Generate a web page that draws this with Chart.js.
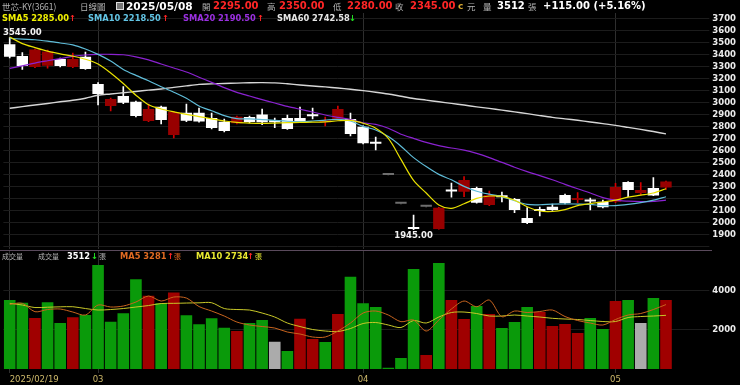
<!DOCTYPE html>
<html>
<head>
<meta charset="utf-8">
<script src="https://cdn.jsdelivr.net/npm/chart.js@4.4.1/dist/chart.umd.min.js"></script>
<style>
    html, body { margin: 0; padding: 0; background: #000; }
    #khung { position: relative; width: 740px; height: 385px; background: #000; overflow: hidden; }
    #khung canvas { position: absolute; left: 0; }
    .t { position: absolute; white-space: nowrap; line-height: 12px; font-family: "DejaVu Sans", sans-serif; }
    .cjk { font-family: "Noto Sans CJK TC", sans-serif; font-size: 8.5px; color: #b4b4b4; }
    .so { font-weight: bold; font-size: 10px; }
    .nho { font-weight: bold; font-size: 8.3px; }
    .do { color: #ff2626; }
    .xanh { color: #22e022; }
    .trang { color: #fff; }
    #vien { position: absolute; left: 0; top: 250px; width: 712px; height: 1px; background: #5a4a5c; }
</style>
</head>
<body>
<div id="khung">
    <canvas id="bieuDoGia" width="740" height="258" style="top:0"></canvas>
    <canvas id="bieuDoKL" width="740" height="145" style="top:240px"></canvas>
    <div id="vien"></div>

    <!-- dòng tiêu đề 1 -->
    <span class="t cjk" style="left:2px;top:0">世芯-KY(3661)</span>
    <span class="t cjk" style="left:80px;top:0">日線圖</span>
    <span class="t" style="left:116px;top:2px;width:6px;height:6px;border:1px solid #ddd;background:#777"></span>
    <span class="t so trang" style="left:126px;top:0;font-size:10.6px">2025/05/08</span>
    <span class="t cjk" style="left:202px;top:0">開</span>
    <span class="t so do" style="left:213px;top:0">2295.00</span>
    <span class="t cjk" style="left:267px;top:0">高</span>
    <span class="t so do" style="left:279px;top:0">2350.00</span>
    <span class="t cjk" style="left:333px;top:0">低</span>
    <span class="t so do" style="left:347px;top:0">2280.00</span>
    <span class="t cjk" style="left:395px;top:0">收</span>
    <span class="t so do" style="left:410px;top:0">2345.00</span>
    <span class="t so" style="left:458px;top:0;color:#d8a830;font-size:9px">c</span>
    <span class="t cjk" style="left:467px;top:0">元</span>
    <span class="t cjk" style="left:483px;top:0">量</span>
    <span class="t so trang" style="left:497px;top:0">3512</span>
    <span class="t cjk" style="left:528px;top:0">張</span>
    <span class="t so trang" style="left:543px;top:0">+115.00 (+5.16%)</span>

    <!-- dòng tiêu đề 2: SMA -->
    <span class="t nho" style="left:2px;top:12px;color:#f0f000">SMA5 2285.00</span>
    <span class="t nho do" style="left:69px;top:12px">↑</span>
    <span class="t nho" style="left:88px;top:12px;color:#62c4e4">SMA10 2218.50</span>
    <span class="t nho do" style="left:162px;top:12px">↑</span>
    <span class="t nho" style="left:183px;top:12px;color:#9a30e0">SMA20 2190.50</span>
    <span class="t nho do" style="left:257px;top:12px">↑</span>
    <span class="t nho" style="left:277px;top:12px;color:#e6e6e6">SMA60 2742.58</span>
    <span class="t nho xanh" style="left:349px;top:12px">↓</span>

    <!-- tiêu đề khối lượng -->
    <span class="t cjk" style="left:2px;top:250px;font-size:7px">成交量</span>
    <span class="t cjk" style="left:38px;top:250px;font-size:7px">成交量</span>
    <span class="t nho trang" style="left:67px;top:250px">3512</span>
    <span class="t nho xanh" style="left:91px;top:250px">↓</span>
    <span class="t cjk" style="left:99px;top:250px;font-size:7px">張</span>
    <span class="t nho" style="left:120px;top:250px;color:#e06a22">MA5 3281</span>
    <span class="t nho do" style="left:167px;top:250px">↑</span>
    <span class="t cjk" style="left:174px;top:250px;font-size:7px;color:#e06a22">張</span>
    <span class="t nho" style="left:196px;top:250px;color:#e8e830">MA10 2734</span>
    <span class="t nho do" style="left:247px;top:250px">↑</span>
    <span class="t cjk" style="left:255px;top:250px;font-size:7px;color:#e8e830">張</span>
</div>

<script>
// ngày giao dịch
const ngayGD = [
    "2025/02/19", "2025/02/20", "2025/02/21", "2025/02/24", "2025/02/25", "2025/02/26", "2025/02/27",
    "2025/03/03", "2025/03/04", "2025/03/05", "2025/03/06", "2025/03/07", "2025/03/10", "2025/03/11",
    "2025/03/12", "2025/03/13", "2025/03/14", "2025/03/17", "2025/03/18", "2025/03/19", "2025/03/20",
    "2025/03/21", "2025/03/24", "2025/03/25", "2025/03/26", "2025/03/27", "2025/03/28", "2025/03/31",
    "2025/04/01", "2025/04/02", "2025/04/07", "2025/04/08", "2025/04/09", "2025/04/10", "2025/04/11",
    "2025/04/14", "2025/04/15", "2025/04/16", "2025/04/17", "2025/04/18", "2025/04/21", "2025/04/22",
    "2025/04/23", "2025/04/24", "2025/04/25", "2025/04/28", "2025/04/29", "2025/04/30",
    "2025/05/02", "2025/05/05", "2025/05/06", "2025/05/07", "2025/05/08",
];

// giá mở, cao, thấp, đóng
const giaMo = [3490, 3392, 3300, 3310, 3367, 3300, 3386, 3158, 2975, 3058, 3011, 2850, 2969, 2733, 2919, 2919, 2875, 2844, 2831, 2883, 2905, 2845, 2875, 2875, 2895, 2840, 2867, 2867, 2803, 2668, 2400, 2160, 1955, 2135, 1950, 2275, 2261, 2292, 2150, 2225, 2200, 2042, 2102, 2136, 2233, 2192, 2185, 2178, 2178, 2342, 2250, 2292, 2295];
const giaCao = [3545, 3420, 3450, 3440, 3375, 3417, 3425, 3170, 3040, 3136, 3015, 2992, 2975, 2930, 2992, 2958, 2917, 2867, 2890, 2890, 2950, 2875, 2900, 2967, 2958, 2883, 2975, 2917, 2810, 2717, 2400, 2160, 2067, 2135, 2130, 2333, 2386, 2300, 2267, 2258, 2205, 2128, 2133, 2158, 2242, 2253, 2208, 2192, 2331, 2345, 2336, 2378, 2350];
const giaThap = [3375, 3280, 3295, 3290, 3300, 3295, 3280, 2983, 2933, 2995, 2885, 2845, 2825, 2708, 2845, 2840, 2785, 2760, 2825, 2835, 2820, 2795, 2780, 2838, 2867, 2808, 2860, 2725, 2660, 2608, 2400, 2160, 1945, 2135, 1948, 2215, 2219, 2165, 2145, 2175, 2086, 1995, 2058, 2105, 2160, 2170, 2108, 2125, 2170, 2219, 2235, 2228, 2280];
const giaDong = [3385, 3308, 3445, 3430, 3308, 3367, 3283, 3075, 3033, 3002, 2892, 2950, 2858, 2925, 2853, 2845, 2792, 2767, 2886, 2842, 2840, 2840, 2783, 2842, 2890, 2850, 2950, 2742, 2665, 2660, 2400, 2160, 1950, 2135, 2128, 2262, 2358, 2169, 2233, 2215, 2108, 2000, 2100, 2108, 2167, 2200, 2180, 2131, 2300, 2275, 2275, 2230, 2345];

// đường trung bình giá
const sma5 = [3550, 3495, 3462, 3432, 3410, 3390, 3365, 3325, 3250, 3162, 3065, 2985, 2950, 2926, 2905, 2887, 2868, 2850, 2838, 2833, 2831, 2833, 2836, 2838, 2840, 2843, 2852, 2855, 2831, 2790, 2705, 2530, 2355, 2250, 2150, 2122, 2160, 2205, 2225, 2222, 2190, 2135, 2100, 2096, 2112, 2145, 2162, 2175, 2190, 2215, 2232, 2250, 2285];
const sma10 = [3539, 3532, 3527, 3515, 3500, 3485, 3450, 3405, 3350, 3280, 3230, 3185, 3135, 3090, 3040, 2975, 2935, 2895, 2870, 2868, 2862, 2855, 2848, 2845, 2850, 2858, 2864, 2850, 2805, 2775, 2720, 2640, 2545, 2470, 2405, 2360, 2305, 2265, 2240, 2220, 2185, 2155, 2152, 2158, 2160, 2158, 2155, 2145, 2145, 2155, 2170, 2190, 2218.5];
const sma20 = [3289, 3310, 3333, 3352, 3370, 3388, 3400, 3405, 3406, 3402, 3385, 3360, 3325, 3292, 3258, 3215, 3172, 3128, 3088, 3058, 3028, 3000, 2972, 2948, 2925, 2900, 2880, 2862, 2835, 2822, 2790, 2740, 2705, 2672, 2645, 2625, 2608, 2580, 2545, 2505, 2465, 2428, 2395, 2360, 2322, 2285, 2250, 2212, 2190, 2182, 2178, 2180, 2190.5];
const sma60 = [2956, 2970, 2983, 2996, 3010, 3023, 3040, 3065, 3075, 3085, 3096, 3107, 3117, 3130, 3143, 3155, 3159, 3163, 3166, 3169, 3170, 3168, 3160, 3150, 3142, 3134, 3125, 3114, 3103, 3090, 3075, 3056, 3037, 3024, 3010, 2997, 2983, 2968, 2955, 2941, 2926, 2911, 2895, 2880, 2868, 2856, 2842, 2828, 2814, 2797, 2780, 2762, 2742.58];

// khối lượng (張) và trung bình khối lượng
const khoiLuong = [3512, 3375, 2596, 3393, 2341, 2630, 2748, 5294, 2409, 2833, 4565, 3732, 3342, 3902, 2732, 2274, 2579, 2104, 1935, 2341, 2494, 1391, 916, 2562, 1527, 1374, 2800, 4700, 3342, 3156, 70, 560, 5090, 713, 5395, 3512, 2545, 3207, 2800, 2087, 2392, 3156, 2901, 2189, 2290, 1832, 2596, 2036, 3461, 3512, 2341, 3614, 3512];
const klMA5 = [3293, 3344, 2917, 3029, 3054, 2901, 2749, 3258, 3156, 3207, 3410, 3716, 3461, 3665, 3614, 3181, 2952, 2698, 2392, 2240, 2163, 2087, 1883, 1782, 1629, 1629, 1934, 2341, 2850, 2952, 2749, 2408, 2494, 1934, 2494, 3054, 3461, 3171, 3512, 2662, 2952, 2876, 2927, 3003, 2672, 2469, 2341, 2240, 2520, 2749, 2825, 3029, 3281];
const klMA10 = [3344, 3258, 3130, 3146, 3166, 3171, 3079, 3003, 3029, 3079, 3156, 3232, 3334, 3344, 3359, 3370, 3375, 3079, 3029, 3003, 2850, 2647, 2341, 2163, 2011, 1934, 1909, 2061, 2316, 2367, 2240, 2112, 2469, 2341, 2647, 2876, 2901, 2825, 2698, 2698, 2749, 2698, 2647, 2581, 2545, 2520, 2469, 2418, 2418, 2621, 2672, 2698, 2734];

// nhãn trục
const nhanGia = [1800, 1900, 2000, 2100, 2200, 2300, 2400, 2500, 2600, 2700, 2800, 2900, 3000, 3100, 3200, 3300, 3400, 3500, 3600, 3700];
const nhanKL = [2000, 4000];
const viTriThang = [0, 7, 28, 48];
const tenThang = ["2025/02/19", "03", "04", "05"];

const FONT = '"DejaVu Sans", sans-serif';
const MAU_LUOI = "#1c1c1c";

// màu nến: đỏ = tăng, trắng = giảm
function mauThan(i) {
    if (giaDong[i] > giaMo[i]) return "#980000";
    if (giaDong[i] < giaMo[i]) return "#ffffff";
    return "#6e6e6e";
}
function mauRau(i) {
    if (giaDong[i] > giaMo[i]) return "#d40000";
    if (giaDong[i] < giaMo[i]) return "#ffffff";
    return "#6e6e6e";
}
// màu khối lượng theo giá đóng so với hôm trước
function mauKL(i) {
    if (i === 0) return "#0a9a0a";
    if (giaDong[i] > giaDong[i - 1]) return "#a00000";
    if (giaDong[i] < giaDong[i - 1]) return "#0a9a0a";
    return "#ababab";
}

const chiSo = ngayGD.map((_, i) => i);
const mauLuoiDoc = (ctx) => (viTriThang.includes(ctx.index) ? "#2e2e2e" : "rgba(0,0,0,0)");

// ghi giá cao nhất / thấp nhất
const nhanCaoThap = {
    id: "nhanCaoThap",
    afterDatasetsDraw(chart) {
        const { ctx, scales } = chart;
        const iMax = giaCao.indexOf(Math.max(...giaCao));
        const iMin = giaThap.indexOf(Math.min(...giaThap));
        ctx.save();
        ctx.font = "bold 8.5px " + FONT;
        ctx.fillStyle = "#f2f2f2";
        ctx.textAlign = "left";
        [[iMax, giaCao[iMax], "bottom", -1], [iMin, giaThap[iMin], "top", 2]].forEach(([i, v, baseLine, dy]) => {
            const chu = v.toFixed(2);
            const w = ctx.measureText(chu).width;
            const trai = Math.max(3, scales.x.getPixelForValue(i) - w / 2);
            ctx.textBaseline = baseLine;
            ctx.fillText(chu, trai, scales.y.getPixelForValue(v) + dy);
        });
        ctx.restore();
    },
};

const duong = (label, data, color, width) => ({
    type: "line",
    label,
    data,
    borderColor: color,
    borderWidth: width,
    pointRadius: 0,
    tension: 0.3,
    fill: false,
});

// trục giá bên phải: vạch lưới kéo dài tới sát nhãn
const trucPhai = (min, max, ticks, callback) => ({
    position: "right",
    min,
    max,
    afterBuildTicks: (s) => { s.ticks = ticks.map((v) => ({ value: v })); },
    ticks: {
        autoSkip: false,
        padding: 3,
        color: "#ececec",
        font: { family: FONT, size: 8.5, weight: "bold" },
        callback,
    },
    grid: { color: MAU_LUOI, tickColor: MAU_LUOI, tickLength: 37 },
    border: { display: false },
    afterFit: (s) => { s.width = 67.7; },
});

new Chart(document.getElementById("bieuDoGia"), {
    type: "bar",
    data: {
        labels: ngayGD,
        datasets: [
            duong("SMA5", sma5, "#e8e000", 1.2),
            duong("SMA10", sma10, "#5fbcd8", 1.2),
            duong("SMA20", sma20, "#8a22d0", 1.2),
            duong("SMA60", sma60, "#d6d6d6", 1.4),
            {
                label: "than",
                data: chiSo.map((i) => [giaMo[i], giaDong[i]]),
                backgroundColor: chiSo.map(mauThan),
                grouped: false,
                barPercentage: 0.9,
                categoryPercentage: 1,
                minBarLength: 2,
            },
            {
                label: "rau",
                data: chiSo.map((i) => [giaThap[i], giaCao[i]]),
                backgroundColor: chiSo.map(mauRau),
                grouped: false,
                barThickness: 1,
            },
        ],
    },
    options: {
        responsive: false,
        animation: false,
        events: [],
        layout: { padding: { left: 3.4, top: 13, bottom: 9, right: 0 }, autoPadding: false },
        plugins: { legend: { display: false }, tooltip: { enabled: false } },
        scales: {
            x: {
                offset: true,
                grid: { offset: false, color: mauLuoiDoc, drawTicks: false },
                ticks: { display: false },
                border: { display: false },
                afterFit: (s) => { s.height = 0; },
            },
            y: trucPhai(1783.33, 3750, nhanGia, (v) => (v >= 1900 ? v : "")),
        },
    },
    plugins: [nhanCaoThap],
});

new Chart(document.getElementById("bieuDoKL"), {
    type: "bar",
    data: {
        labels: ngayGD,
        datasets: [
            duong("MA5", klMA5, "#c8641e", 1),
            duong("MA10", klMA10, "#c8c828", 1),
            {
                label: "成交量",
                data: khoiLuong,
                backgroundColor: chiSo.map(mauKL),
                barPercentage: 0.92,
                categoryPercentage: 1,
            },
        ],
    },
    options: {
        responsive: false,
        animation: false,
        events: [],
        layout: { padding: { left: 3.4, top: 10, bottom: 0, right: 0 }, autoPadding: false },
        plugins: { legend: { display: false }, tooltip: { enabled: false } },
        scales: {
            x: {
                offset: true,
                grid: { offset: false, color: mauLuoiDoc, tickLength: 4 },
                border: { display: false },
                ticks: {
                    autoSkip: false,
                    maxRotation: 0,
                    minRotation: 0,
                    align: "inner",
                    padding: 2,
                    color: "#cdb86a",
                    font: { family: FONT, size: 8.5 },
                    callback: (v, i) => {
                        const k = viTriThang.indexOf(i);
                        return k < 0 ? "" : tenThang[k];
                    },
                },
                afterFit: (s) => { s.height = 16; },
            },
            y: trucPhai(0, 6060, nhanKL),
        },
    },
});
</script>
</body>
</html>
